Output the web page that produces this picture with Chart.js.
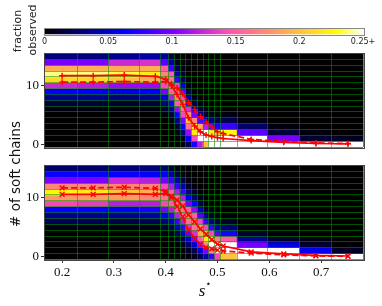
<!DOCTYPE html>
<html><head><meta charset="utf-8">
<script src="https://cdn.jsdelivr.net/npm/chart.js@4.4.1/dist/chart.umd.min.js"></script>
<style>
html,body{margin:0;padding:0;background:#fff;}
#wrap{position:relative;width:382px;height:306px;overflow:hidden;background:#fff;}
canvas{position:absolute;left:0;top:0;}
</style></head><body>
<div id="wrap">
<canvas id="cb" width="382" height="306"></canvas>
<canvas id="top" width="382" height="306"></canvas>
<canvas id="bot" width="382" height="306"></canvas>
</div>
<script>
// ---------- data ----------
const xs = [0.2,0.26,0.32,0.38,0.4,0.411,0.422,0.433,0.444,0.456,0.467,0.478,0.489,0.5,0.511,0.565,0.628,0.69,0.752];
const binEdges = [0.166,0.23,0.29,0.35,0.39,0.4056,0.4167,0.4278,0.4389,0.45,0.4611,0.4722,0.4833,0.4944,0.5056,0.538,0.5965,0.659,0.721,0.781];
const rows = [0,1,2,3,4,5,6,7,8,9,10,11,12,13,14,15];
const meanA = [11.7,11.7,11.8,11.6,11.1,10.0,8.5,6.8,4.5,3.1,2.1,1.55,1.3,1.1,0.95,0.6,0.3,0.1,0.05];
const meanB = [10.6,10.6,10.7,10.6,10.7,10.3,9.6,8.6,7.1,5.9,4.7,3.8,2.9,2.1,1.8,0.8,0.45,0.2,0.1];
// fraction observed, one array per column (rows 0..15)
const topFrac = [
 [0,0,0,0,0,0,0.005,0.015,0.035,0.06,0.125,0.21,0.24,0.19,0.10,0.03],
 [0,0,0,0,0,0,0.005,0.015,0.035,0.06,0.12,0.21,0.24,0.19,0.10,0.03],
 [0,0,0,0,0,0,0.004,0.012,0.03,0.055,0.11,0.20,0.235,0.19,0.125,0.035],
 [0,0,0,0,0,0,0.005,0.015,0.035,0.06,0.11,0.19,0.22,0.19,0.13,0.04],
 [0,0,0,0,0,0.004,0.012,0.03,0.055,0.1,0.14,0.16,0.17,0.15,0.09,0.04],
 [0,0,0,0,0.005,0.015,0.035,0.07,0.12,0.15,0.16,0.16,0.15,0.08,0.04,0.015],
 [0,0,0.004,0.012,0.03,0.06,0.11,0.15,0.17,0.165,0.14,0.08,0.045,0.02,0.008,0.003],
 [0.003,0.01,0.03,0.06,0.1,0.14,0.16,0.17,0.14,0.09,0.05,0.025,0.01,0.004,0,0],
 [0.02,0.06,0.11,0.16,0.2,0.18,0.13,0.075,0.04,0.018,0.006,0.002,0,0,0,0],
 [0.07,0.14,0.22,0.23,0.17,0.1,0.045,0.018,0.006,0.002,0,0,0,0,0,0],
 [0.12,0.26,0.28,0.19,0.09,0.04,0.015,0.005,0,0,0,0,0,0,0,0],
 [0.2,0.35,0.26,0.12,0.05,0.015,0.005,0,0,0,0,0,0,0,0,0],
 [0.25,0.4,0.22,0.09,0.03,0.008,0,0,0,0,0,0,0,0,0,0],
 [0.3,0.4,0.2,0.07,0.02,0.005,0,0,0,0,0,0,0,0,0,0],
 [0.33,0.35,0.23,0.08,0.02,0.005,0,0,0,0,0,0,0,0,0,0],
 [0.5,0.38,0.09,0.025,0.005,0,0,0,0,0,0,0,0,0,0,0],
 [0.88,0.1,0.015,0.003,0,0,0,0,0,0,0,0,0,0,0,0],
 [0.98,0.012,0.003,0,0,0,0,0,0,0,0,0,0,0,0,0],
 [0.99,0.008,0,0,0,0,0,0,0,0,0,0,0,0,0,0]
];
const botFrac = [
 [0,0,0,0,0,0.005,0.02,0.035,0.065,0.14,0.18,0.225,0.17,0.1,0.065,0.025],
 [0,0,0,0,0,0.005,0.02,0.035,0.065,0.135,0.18,0.22,0.17,0.1,0.065,0.025],
 [0,0,0,0,0,0.004,0.018,0.035,0.06,0.12,0.18,0.2,0.17,0.125,0.065,0.03],
 [0,0,0,0,0,0.005,0.02,0.04,0.07,0.12,0.17,0.19,0.17,0.12,0.06,0.03],
 [0,0,0,0,0.005,0.015,0.03,0.06,0.1,0.14,0.16,0.16,0.14,0.1,0.06,0.03],
 [0,0,0,0.003,0.008,0.02,0.045,0.08,0.12,0.15,0.16,0.15,0.12,0.08,0.04,0.015],
 [0,0,0.003,0.008,0.02,0.045,0.08,0.12,0.15,0.16,0.15,0.12,0.08,0.04,0.018,0.006],
 [0,0.003,0.008,0.02,0.045,0.08,0.12,0.15,0.16,0.15,0.12,0.08,0.04,0.018,0.006,0.002],
 [0.003,0.01,0.025,0.05,0.09,0.13,0.16,0.17,0.15,0.1,0.06,0.03,0.012,0.004,0,0],
 [0.006,0.02,0.05,0.09,0.13,0.16,0.17,0.15,0.11,0.065,0.03,0.012,0.004,0.001,0,0],
 [0.02,0.05,0.1,0.15,0.19,0.18,0.14,0.09,0.045,0.02,0.008,0.002,0,0,0,0],
 [0.04,0.1,0.17,0.22,0.2,0.14,0.08,0.035,0.012,0.004,0,0,0,0,0,0],
 [0.08,0.17,0.26,0.22,0.14,0.08,0.035,0.012,0.004,0,0,0,0,0,0,0],
 [0.14,0.26,0.27,0.17,0.09,0.045,0.018,0.005,0,0,0,0,0,0,0,0],
 [0.2,0.27,0.26,0.15,0.07,0.03,0.01,0.003,0,0,0,0,0,0,0,0],
 [0.45,0.4,0.1,0.035,0.01,0.003,0,0,0,0,0,0,0,0,0,0],
 [0.6,0.33,0.055,0.01,0.003,0,0,0,0,0,0,0,0,0,0,0],
 [0.92,0.06,0.012,0.003,0,0,0,0,0,0,0,0,0,0,0,0],
 [0.99,0.01,0,0,0,0,0,0,0,0,0,0,0,0,0,0]
];
const xTicks = [0.2,0.3,0.4,0.5,0.6,0.7];
const xTickLabels = ['0.2','0.3','0.4','0.5','0.6','0.7'];
const yTicks = [0,10];
const yTickLabels = ['0','10'];
const cbTicks = [0,0.05,0.1,0.15,0.2,0.25];
const cbTickLabels = ['0','0.05','0.1','0.15','0.2','0.25+'];
const VMAX = 0.25;

// ---------- colormap (gnuplot2) ----------
function clamp01(v){return Math.min(1,Math.max(0,v));}
function gnuplot2(t){
  const r = clamp01(t/0.32-0.78125);
  const g = clamp01(2*t-0.84);
  let b = t<0.25 ? 4*t : (t<0.92 ? -2*t+1.84 : t/0.08-11.5);
  b = clamp01(b);
  return 'rgb('+Math.round(r*255)+','+Math.round(g*255)+','+Math.round(b*255)+')';
}
function colorFor(v){return gnuplot2(clamp01(v/VMAX));}

const SERIF = '"Liberation Serif", "DejaVu Serif", serif';
const SANS = '"DejaVu Sans", sans-serif';
const XMIN = binEdges[0], XMAX = binEdges[binEdges.length-1];
const GRID_GREEN = 'rgba(0,150,0,0.55)';

const framePlugin = {
  id:'frame',
  afterDraw(chart, args, opts){
    const ca = chart.chartArea, c = chart.ctx;
    c.save(); c.strokeStyle = opts.color || '#555'; c.lineWidth = 1;
    c.strokeRect(Math.round(ca.left)-0.5, Math.round(ca.top)-0.5, Math.round(ca.right-ca.left)+1, Math.round(ca.bottom-ca.top)+1);
    c.restore();
  }
};
// redraw the cell-edge grid right after the heatmap bars, below the red lines
const edgeGridPlugin = {
  id:'edgeGrid',
  afterDatasetDraw(chart, args){
    if(args.meta.type !== 'bar') return;
    chart.scales.gx.drawGrid(chart.chartArea);
    chart.scales.gy.drawGrid(chart.chartArea);
  }
};

// ---------- colorbar ----------
new Chart(document.getElementById('cb'), {
  type:'bar',
  data:{labels:['f'], datasets:[{
    data:[[0,VMAX]],
    backgroundColor:(ctx)=>{
      const ca = ctx.chart.chartArea; if(!ca) return '#000';
      const g = ctx.chart.ctx.createLinearGradient(ca.left,0,ca.right,0);
      for(let i=0;i<=64;i++){ g.addColorStop(i/64, gnuplot2(i/64)); }
      return g;
    },
    barPercentage:1, categoryPercentage:1, borderWidth:0, inflateAmount:0
  }]},
  options:{
    indexAxis:'y', responsive:false, animation:false, devicePixelRatio:1, events:[],
    layout:{padding:{left:0,right:0,top:28.5,bottom:0}},
    plugins:{legend:{display:false}, tooltip:{enabled:false}, frame:{color:'#888'}},
    scales:{
      x:{type:'linear', min:0, max:VMAX, position:'bottom',
         afterBuildTicks:s=>{s.ticks = cbTicks.map(v=>({value:v}));},
         ticks:{callback:(v,i)=>cbTickLabels[i], font:{family:SANS,size:8}, color:'#222', padding:3, maxRotation:0, autoSkip:false},
         grid:{display:false, drawTicks:false}, border:{display:false},
         afterFit:s=>{s.height = 306-28.5-6;}},
      y:{type:'category', position:'left', ticks:{display:false}, grid:{display:false}, border:{display:false},
         afterFit:s=>{s.width = 44.5;}},
      yr:{type:'linear', axis:'y', position:'right', ticks:{display:false}, grid:{display:false}, border:{display:false},
         afterFit:s=>{s.width = 19;}}
    }
  },
  plugins:[framePlugin, {
    id:'cbLabel',
    afterDraw(chart){
      const c = chart.ctx; c.save();
      c.fillStyle = '#222'; c.font = '11px '+SANS; c.textAlign='center'; c.textBaseline='middle';
      c.translate(18,31); c.rotate(-Math.PI/2); c.fillText('fraction',0,0); c.restore();
      c.save(); c.fillStyle = '#222'; c.font = '11px '+SANS; c.textAlign='center'; c.textBaseline='middle';
      c.translate(33,30); c.rotate(-Math.PI/2); c.fillText('observed',0,0); c.restore();
    }
  }]
});

// ---------- panels ----------
function makePanel(id, frac, solid, dashed, marker, areaTop, areaBottom, showX){
  const cells = [], colors = [];
  for(let c=0;c<xs.length;c++){
    for(let r=0;r<rows.length;r++){
      cells.push({x:[binEdges[c],binEdges[c+1]], y:rows[r]});
      colors.push(colorFor(frac[c][r]));
    }
  }
  const lineDs = (vals, dash)=>({
    type:'line', xAxisID:'x', yAxisID:'y', order:0,
    data: xs.map((x,i)=>({x:x, y:vals[i]})),
    borderColor:'#ff0000', backgroundColor:'#ff0000', borderWidth:1.7, borderDash:dash,
    pointStyle:marker, pointRadius:marker==='cross'?3:3.4, pointBorderWidth:1.4, pointBorderColor:'#ff0000',
    tension:0, fill:false, clip:false
  });
  const xAxisH = showX ? 306-areaBottom : 10;
  return new Chart(document.getElementById(id), {
    type:'line',
    data:{datasets:[
      lineDs(solid, []),
      lineDs(dashed, [6,3]),
      {type:'bar', indexAxis:'y', xAxisID:'x', yAxisID:'y', order:10, data:cells, backgroundColor:colors,
       barPercentage:1, categoryPercentage:1, borderWidth:0}
    ]},
    options:{
      responsive:false, animation:false, devicePixelRatio:1, events:[],
      layout:{padding:{left:0,right:19,top:areaTop,bottom:306-areaBottom-xAxisH}},
      plugins:{legend:{display:false}, tooltip:{enabled:false}, frame:{color:'#444'}},
      scales:{
        x:{type:'linear', position:'bottom', min:XMIN, max:XMAX, offset:false, beginAtZero:false,
           afterBuildTicks:s=>{s.ticks = xTicks.map(v=>({value:v}));},
           ticks:{display:showX, callback:(v,i)=>xTickLabels[i], font:{family:SERIF,size:13}, color:'#111', padding:2, maxRotation:0, autoSkip:false},
           grid:{display:showX, offset:false, drawOnChartArea:false, drawTicks:true, tickLength:3.5, color:'#333'},
           border:{display:false},
           afterFit:s=>{s.height = xAxisH;}},
        y:{type:'linear', position:'left', min:-0.5, max:15.5, offset:false, beginAtZero:false,
           afterBuildTicks:s=>{s.ticks = yTicks.map(v=>({value:v}));},
           ticks:{callback:(v,i)=>yTickLabels[i], font:{family:SERIF,size:13}, color:'#111', padding:2},
           grid:{display:true, offset:false, drawOnChartArea:false, drawTicks:true, tickLength:3.5, color:'#333'},
           border:{display:false},
           afterFit:s=>{s.width = 44.5;}},
        gx:{type:'linear', axis:'x', position:'bottom', min:XMIN, max:XMAX, offset:false,
           afterBuildTicks:s=>{s.ticks = binEdges.map(v=>({value:v}));},
           ticks:{display:false}, grid:{color:GRID_GREEN, lineWidth:1, drawTicks:false, offset:false}, border:{display:false},
           afterFit:s=>{s.height = 0;}},
        gy:{type:'linear', axis:'y', position:'left', min:-0.5, max:15.5, offset:false,
           afterBuildTicks:s=>{s.ticks = rows.concat([rows.length]).map(v=>({value:v-0.5}));},
           ticks:{display:false}, grid:{color:GRID_GREEN, lineWidth:1, drawTicks:false, offset:false}, border:{display:false},
           afterFit:s=>{s.width = 0;}}
      }
    },
    plugins:[edgeGridPlugin, framePlugin].concat(showX ? [{
      id:'labels',
      afterDraw(chart){
        const c = chart.ctx;
        c.save(); c.fillStyle='#111'; c.font='13.5px '+SANS; c.textAlign='center'; c.textBaseline='middle';
        c.translate(16,174); c.rotate(-Math.PI/2); c.fillText('# of soft chains',0,0); c.restore();
        c.save(); c.fillStyle='#111'; c.textAlign='center'; c.textBaseline='alphabetic';
        c.font='italic 17px '+SERIF; c.fillText('s',202,296);
        c.font='10px '+SANS; c.fillText('\u22C6',208.5,287);
        c.restore();
      }
    }] : [])
  });
}
makePanel('top', topFrac, meanA, meanB, 'cross', 53.5, 147, false);
makePanel('bot', botFrac, meanB, meanA, 'crossRot', 165.5, 259.5, true);
</script>
</body></html>
